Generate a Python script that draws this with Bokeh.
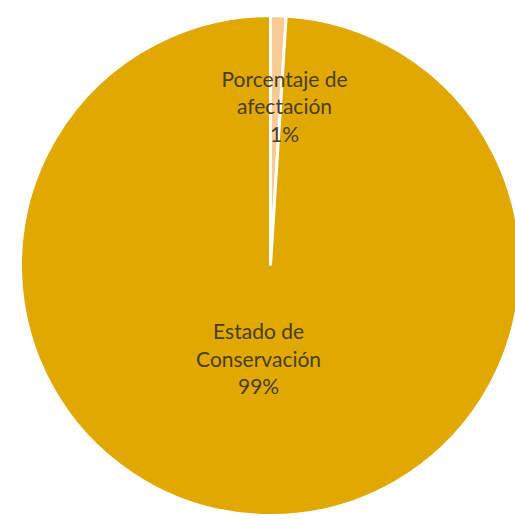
import numpy as np
from bokeh.plotting import figure
from bokeh.models import Range1d, ColumnDataSource
from bokeh.core.properties import value
from bokeh.embed import file_html
from bokeh.resources import INLINE

# ---- data ----
categories = ["Porcentaje de\nafectación", "Estado de\nConservación"]
percent = [1, 99]
colors = ["#F8CB95", "#E0A800"]

# ---- layout ----
W, H = 515, 519
CX, CY, R = 270, 254, 250
label_frac = [0.64, 0.372]
label_dx = [9, -9]

vals = np.array(percent, dtype=float)
frac = vals / vals.sum()
cum_end = np.cumsum(frac)
cum_start = cum_end - frac
start = np.pi / 2 - 2 * np.pi * cum_end
end = np.pi / 2 - 2 * np.pi * cum_start
mid = (start + end) / 2

lx = [CX + f * R * np.cos(m) + dx for f, m, dx in zip(label_frac, mid, label_dx)]
ly = [CY + f * R * np.sin(m) for f, m in zip(label_frac, mid)]
labels = [f"{c}\n{p}%" for c, p in zip(categories, percent)]

src = ColumnDataSource(dict(start=start, end=end, color=colors,
                            x=[CX] * len(percent), y=[CY] * len(percent)))
lsrc = ColumnDataSource(dict(x=lx, y=ly, text=labels))

p = figure(width=W, height=H, x_range=Range1d(0, W), y_range=Range1d(0, H),
           output_backend="svg", toolbar_location=None, min_border=0,
           outline_line_color=None, background_fill_color="white",
           border_fill_color="white")
p.axis.visible = False
p.grid.visible = False

p.wedge(x="x", y="y", radius=R, start_angle="start", end_angle="end",
        fill_color="color", line_color="white", line_width=3, source=src)

p.text(x="x", y="y", text="text", source=lsrc, text_align="center",
       text_baseline="middle", text_font=value("Lato"), text_font_size="21px",
       text_color="#4a3f1e", text_line_height=1.1)

open("out.html", "w").write(file_html(p, INLINE))
